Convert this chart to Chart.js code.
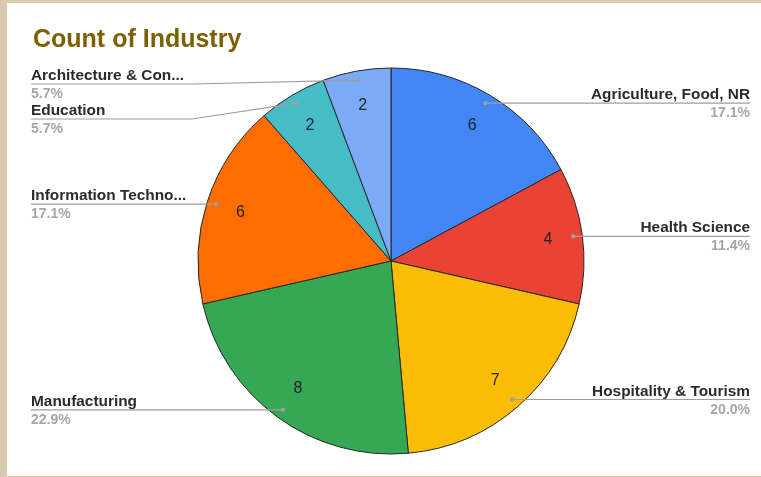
<!DOCTYPE html>
<html>
    <head>
        <title>Count of Industry</title>
        <meta charset="UTF-8" />
        <script src="https://cdn.jsdelivr.net/npm/chart.js"></script>
        <style>
            html, body { margin: 0; padding: 0; }
            body { width: 761px; height: 477px; background: #d9c9ae; position: relative; overflow: hidden; }
            .frame { position: absolute; left: 7px; top: 3px; right: 0; bottom: 1px; background: #ffffff; }
            .chart-box { position: absolute; left: 0; top: 0; width: 761px; height: 477px; }
        </style>
    </head>
    <body>
        <div class="frame"></div>
        <div class="chart-box">
            <canvas id="myChart" width="761" height="477"></canvas>
        </div>
        <script>
            // データ
            const chartTitle = 'Count of Industry';
            const categories = ['Agriculture, Food, NR', 'Health Science', 'Hospitality & Tourism',
                'Manufacturing', 'Information Technology', 'Education', 'Architecture & Construction'];
            const counts = [6, 4, 7, 8, 6, 2, 2];
            const sliceColors = ['#4285f4', '#ea4335', '#fbbc04', '#34a853', '#ff6d01', '#46bdc6', '#7baaf7'];

            function shortName(s) {
                return s.length > 21 ? s.slice(0, 18) + '...' : s;
            }

            // 外側ラベルと引き出し線
            var labelPlugin = {
                id: 'pieLabels',
                afterDatasetsDraw: function(chart) {
                    var ctx = chart.ctx;
                    var arcs = chart.getDatasetMeta(0).data;
                    var total = counts.reduce(function(a, b) { return a + b; }, 0);
                    var items = [];
                    arcs.forEach(function(arc, i) {
                        var p = arc.getProps(['x', 'y', 'startAngle', 'endAngle', 'outerRadius'], true);
                        var mid = (p.startAngle + p.endAngle) / 2;
                        var r = p.outerRadius;
                        // スライス内の値
                        ctx.save();
                        ctx.fillStyle = '#222222';
                        ctx.font = '16px "Liberation Sans", Arial, sans-serif';
                        ctx.textAlign = 'center';
                        ctx.textBaseline = 'middle';
                        ctx.fillText(String(counts[i]), p.x + Math.cos(mid) * r * 0.82, p.y + Math.sin(mid) * r * 0.82);
                        ctx.restore();
                        items.push({
                            i: i,
                            dx: p.x + Math.cos(mid) * r * 0.953,
                            dy: p.y + Math.sin(mid) * r * 0.953,
                            left: Math.cos(mid) < 0,
                            cx: p.x,
                            r: r
                        });
                    });
                    [true, false].forEach(function(side) {
                        var list = items.filter(function(it) { return it.left === side; });
                        list.sort(function(a, b) { return a.dy - b.dy; });
                        var prev = -Infinity;
                        list.forEach(function(it) {
                            it.ly = Math.max(it.dy, prev + 35, 84);
                            prev = it.ly;
                        });
                    });
                    items.forEach(function(it) {
                        var i = it.i;
                        var pct = (counts[i] / total * 100).toFixed(1) + '%';
                        var textX = it.left ? 31 : 750;
                        var bendX = it.left ? it.cx - it.r - 6 : it.cx + it.r + 6;
                        ctx.save();
                        ctx.strokeStyle = '#9e9e9e';
                        ctx.lineWidth = 1.2;
                        ctx.beginPath();
                        ctx.moveTo(textX, it.ly);
                        if (Math.abs(it.ly - it.dy) > 0.5) {
                            ctx.lineTo(bendX, it.ly);
                        }
                        ctx.lineTo(it.dx, it.dy);
                        ctx.stroke();
                        ctx.fillStyle = '#9e9e9e';
                        ctx.beginPath();
                        ctx.arc(it.dx, it.dy, 2.2, 0, Math.PI * 2);
                        ctx.fill();
                        ctx.textAlign = it.left ? 'left' : 'right';
                        ctx.textBaseline = 'alphabetic';
                        ctx.fillStyle = '#2b2b2b';
                        ctx.font = 'bold 15.4px "Liberation Sans", Arial, sans-serif';
                        ctx.fillText(shortName(categories[i]), textX, it.ly - 4);
                        ctx.fillStyle = '#a6a6a6';
                        ctx.font = 'bold 14px "Liberation Sans", Arial, sans-serif';
                        ctx.fillText(pct, textX, it.ly + 14);
                        ctx.restore();
                    });
                    // タイトル
                    ctx.save();
                    ctx.fillStyle = '#7f6000';
                    ctx.font = 'bold 25px "Liberation Sans", Arial, sans-serif';
                    ctx.textAlign = 'left';
                    ctx.textBaseline = 'alphabetic';
                    ctx.fillText(chartTitle, 33, 47);
                    ctx.restore();
                }
            };

            var ctx = document.getElementById('myChart').getContext('2d');
            var myChart = new Chart(ctx, {
                type: 'pie',
                data: {
                    labels: categories,
                    datasets: [{
                        data: counts,
                        backgroundColor: sliceColors,
                        borderColor: '#262626',
                        borderWidth: 1,
                        hoverOffset: 0
                    }]
                },
                options: {
                    responsive: false,
                    animation: false,
                    radius: 193,
                    layout: {
                        padding: { top: 68, bottom: 23, left: 198, right: 177 }
                    },
                    plugins: {
                        legend: { display: false },
                        tooltip: { enabled: false },
                        title: { display: false }
                    }
                },
                plugins: [labelPlugin]
            });
        </script>
    </body>
</html>
